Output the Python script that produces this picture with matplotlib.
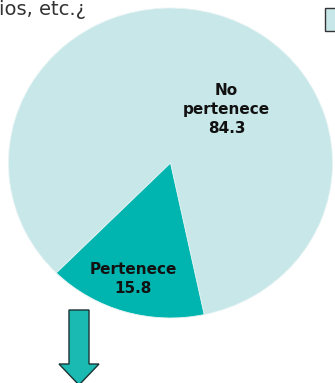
import matplotlib
matplotlib.use('Agg')
import matplotlib.pyplot as plt
from matplotlib.patches import Rectangle, Polygon

labels = ['No\npertenece', 'Pertenece']
values = [84.3, 15.8]
colors = ['#C8E7E9', '#00B5AF']

W, H = 335, 383
fig = plt.figure(figsize=(W / 100, H / 100), dpi=100)


def px(x, y):
    # pixel position from top-left -> figure fraction
    return (x / W, 1 - y / H)


# pie is slightly stretched horizontally in the original
cx, cy, rx, ry = 170.5, 163, 162, 155
ax = fig.add_axes([(cx - rx) / W, (H - cy - ry) / H, 2 * rx / W, 2 * ry / H])
wedges, _ = ax.pie(values, colors=colors, startangle=282, counterclock=True,
                   radius=1, wedgeprops={'linewidth': 0.6, 'edgecolor': '#e8f4f4'})
ax.set_xlim(-1, 1)
ax.set_ylim(-1, 1)
ax.set_aspect('auto')
ax.axis('off')

label_pos = [(0.345, 0.345), (-0.23, -0.75)]
for lab, val, (lx, ly) in zip(labels, values, label_pos):
    ax.text(lx, ly, f'{lab}\n{val}', ha='center', va='center', fontsize=11,
            fontweight='bold', color='#111111', linespacing=1.3)

# cropped title text
fig.text(*px(-1, 15), 'ios, etc.¿', fontsize=14, color='#333333',
         ha='left', va='baseline')

# cropped legend marker
x0, y0 = px(325, 31)
fig.patches.append(Rectangle((x0, y0), 20 / W, 23 / H, transform=fig.transFigure,
                             facecolor=colors[0], edgecolor='#333333', linewidth=1))

# down arrow
pts = [(69, 310), (89, 310), (89, 364), (99, 364), (79, 385), (59, 364), (69, 364)]
fig.patches.append(Polygon([px(x, y) for x, y in pts], closed=True,
                           transform=fig.transFigure, facecolor='#1ABAB2',
                           edgecolor='#1a3333', linewidth=1))

fig.savefig('out.png', dpi=100)
